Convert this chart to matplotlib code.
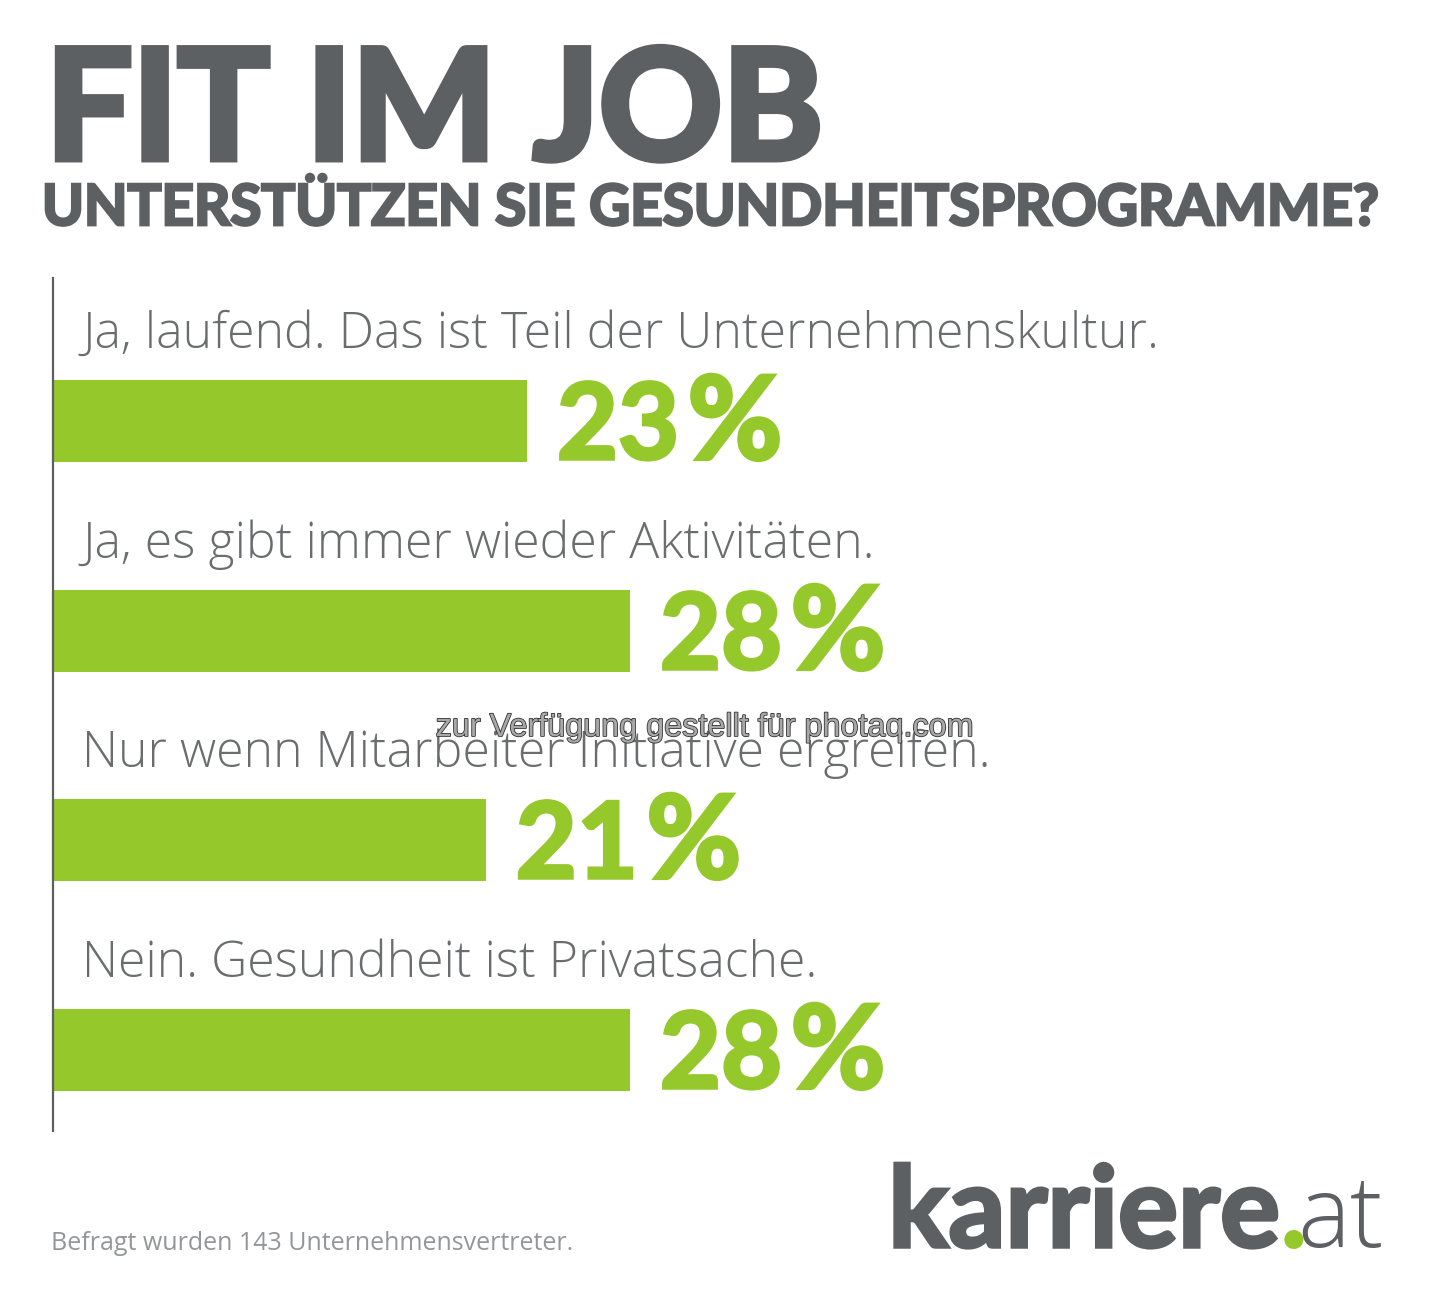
import matplotlib
matplotlib.use("Agg")
import matplotlib.pyplot as plt
import matplotlib.patheffects as pe

title = "FIT IM JOB"
subtitle = "UNTERSTÜTZEN SIE GESUNDHEITSPROGRAMME?"
answers = [
    "Ja, laufend. Das ist Teil der Unternehmenskultur.",
    "Ja, es gibt immer wieder Aktivitäten.",
    "Nur wenn Mitarbeiter Initiative ergreifen.",
    "Nein. Gesundheit ist Privatsache.",
]
values = [23, 28, 21, 28]
footnote = "Befragt wurden 143 Unternehmensvertreter."
watermark = "zur Verfügung gestellt für photaq.com"

GREEN = "#95c82a"
GREY = "#5d6062"
W, H = 1440, 1296

plt.rcParams["font.family"] = ["Lato", "DejaVu Sans"]


def heavy(width, color):
    # Lato has no black cut here, so fatten the bold with a stroke
    return [pe.withStroke(linewidth=width, foreground=color, joinstyle="miter")]


fig = plt.figure(figsize=(W / 100, H / 100), dpi=100, facecolor="white")

# axes spans the zero line to the right edge of the figure, y runs per bar row
x0 = 53
ax = fig.add_axes([x0 / W, 0, 1 - x0 / W, 1])
ax.set_xlim(0, (W - x0) / 20.6)
ax.set_ylim(H, 0)
ax.axis("off")

bar_tops = [380, 590, 799, 1009]
bar_h = 82
for top, v, label in zip(bar_tops, values, answers):
    ax.barh(top + bar_h / 2, v, height=bar_h, color=GREEN, linewidth=0)
    # number and percent sign are separate, the sign sits a bit apart
    ax.annotate(f"{v}", (v, top + bar_h - 3), xytext=(30, 0), textcoords="offset pixels",
                va="baseline", ha="left", fontsize=76, fontweight="bold", color=GREEN,
                path_effects=heavy(2.5, GREEN))
    ax.annotate("%", (v, top + bar_h - 3), xytext=(161, 0), textcoords="offset pixels",
                va="baseline", ha="left", fontsize=83, fontweight="bold", color=GREEN,
                path_effects=heavy(3, GREEN))
    ax.text(1.42, top - 45, label, fontsize=36, color="#6a6c6e", va="center",
            family="Open Sans", fontweight="light")

# vertical baseline
fig.add_artist(plt.Line2D([52.5 / W] * 2, [1 - 278 / H, 1 - 1131 / H], color=GREY, lw=1.6))

fig.text(46 / W, 1 - 159 / H, title, fontsize=110, fontweight="bold", color=GREY,
         va="baseline", ha="left", path_effects=heavy(5, GREY))
fig.text(42 / W, 1 - 225 / H, subtitle, fontsize=40.7, fontweight="bold", color=GREY,
         va="baseline", ha="left", path_effects=heavy(2, GREY))

fig.text(51 / W, 1 - 1250 / H, footnote, fontsize=18, color="#94969a", va="baseline",
         family="Open Sans")

# logo as text
fig.text(1280 / W, 1 - 1247 / H, "karriere", fontsize=81, fontweight="bold", color=GREY,
         va="baseline", ha="right", path_effects=heavy(2.5, GREY))
fig.text(1294 / W, 1 - 1248 / H, ".", fontsize=90, fontweight="bold", color=GREEN,
         va="baseline", ha="center")
fig.text(1384 / W, 1 - 1247 / H, "at", fontsize=72, color=GREY, va="baseline", ha="right",
         family="Open Sans", fontweight="light")

# watermark is mid grey with a dark edge in the reference
fig.text(705 / W, 1 - 728 / H, watermark, fontsize=23.3, color="#a8a8a8", ha="center",
         va="center", family="Liberation Sans",
         path_effects=[pe.withStroke(linewidth=1.2, foreground="#333333")])

fig.savefig("out.png", dpi=100)
